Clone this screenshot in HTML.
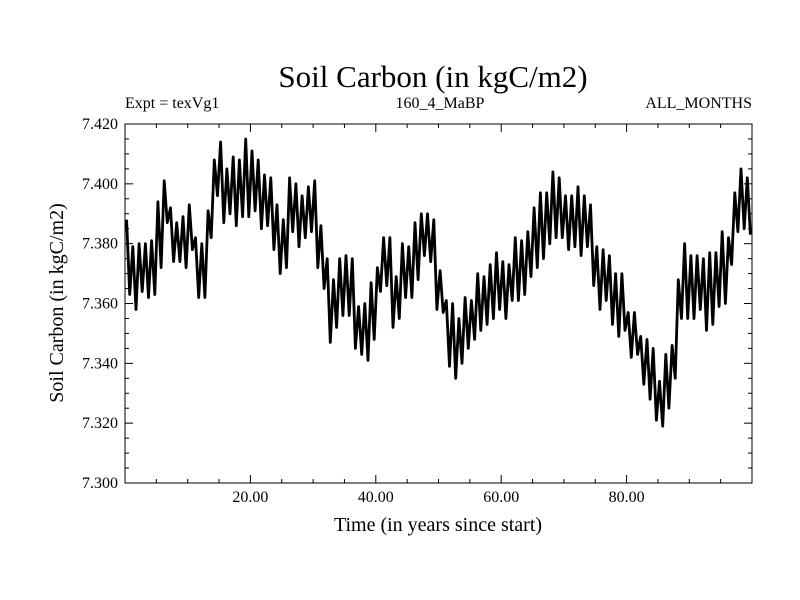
<!DOCTYPE html>
<html><head><meta charset="utf-8"><style>
body{margin:0;background:#fff}
svg{display:block}
text{font-family:"Liberation Serif",serif;fill:#000}
</style></head><body>
<svg id="chart" width="800" height="600">
<text x="433" y="87" font-size="31" text-anchor="middle">Soil Carbon (in kgC/m2)</text>
<text x="125" y="108" font-size="16">Expt = texVg1</text>
<text x="440" y="108" font-size="16" text-anchor="middle">160_4_MaBP</text>
<text x="752" y="108" font-size="16" text-anchor="end">ALL_MONTHS</text>
<text x="438" y="531" font-size="20" text-anchor="middle">Time (in years since start)</text>
<text transform="translate(63,303) rotate(-90)" font-size="20" text-anchor="middle">Soil Carbon (in kgC/m2)</text>
<g id="axes"></g>
<path id="series" fill="none" stroke="#000" stroke-width="2.8" stroke-linejoin="round"></path>
<rect x="125" y="124" width="627" height="359" fill="none" stroke="#000" stroke-width="1"></rect>
</svg>
<script>
const yearHighs=[7.388,7.379,7.380,7.380,7.381,7.394,7.401,7.392,7.387,7.389,7.393,7.382,7.380,7.391,7.408,7.414,7.405,7.409,7.408,7.415,7.411,7.408,7.403,7.402,7.393,7.388,7.402,7.400,7.396,7.399,7.401,7.386,7.375,7.368,7.375,7.376,7.375,7.359,7.360,7.367,7.372,7.382,7.382,7.369,7.380,7.379,7.387,7.390,7.390,7.388,7.371,7.361,7.360,7.355,7.362,7.361,7.370,7.369,7.373,7.377,7.374,7.373,7.382,7.381,7.384,7.392,7.397,7.397,7.404,7.402,7.396,7.396,7.399,7.396,7.393,7.379,7.378,7.376,7.370,7.370,7.357,7.357,7.349,7.348,7.345,7.334,7.343,7.346,7.368,7.380,7.376,7.376,7.375,7.377,7.377,7.384,7.382,7.397,7.405,7.402];
const yearLows=[7.363,7.358,7.364,7.362,7.363,7.372,7.387,7.374,7.374,7.372,7.378,7.362,7.362,7.382,7.396,7.387,7.390,7.386,7.389,7.389,7.391,7.385,7.386,7.378,7.370,7.372,7.384,7.379,7.382,7.384,7.372,7.365,7.347,7.352,7.356,7.356,7.345,7.343,7.341,7.348,7.364,7.366,7.352,7.355,7.362,7.362,7.368,7.376,7.374,7.358,7.357,7.339,7.335,7.340,7.345,7.348,7.351,7.353,7.355,7.358,7.355,7.361,7.361,7.363,7.369,7.372,7.375,7.380,7.382,7.382,7.378,7.379,7.376,7.379,7.366,7.358,7.361,7.353,7.349,7.351,7.342,7.343,7.333,7.328,7.321,7.319,7.325,7.335,7.355,7.355,7.355,7.358,7.351,7.353,7.359,7.360,7.373,7.384,7.385,7.383];
const xTickLabels=["20.00","40.00","60.00","80.00"];
const xTickValues=[20,40,60,80];
const yTickLabels=["7.300","7.320","7.340","7.360","7.380","7.400","7.420"];
const yTickValues=[7.30,7.32,7.34,7.36,7.38,7.40,7.42];

const X0=125,X1=752,Y0=483,Y1=124;
const xMin=0,xMax=100,yMin=7.30,yMax=7.42;
function xs(v){return X0+(v-xMin)/(xMax-xMin)*(X1-X0);}
function ys(v){return Y0-(v-yMin)/(yMax-yMin)*(Y0-Y1);}
const NS="http://www.w3.org/2000/svg";
const axes=document.getElementById('axes');
function line(x1,y1,x2,y2,name){
  const l=document.createElementNS(NS,'line');
  l.setAttribute('x1',x1);l.setAttribute('y1',y1);l.setAttribute('x2',x2);l.setAttribute('y2',y2);
  l.setAttribute('stroke','#000');l.setAttribute('stroke-width','1');
  
  
  axes.appendChild(l);
}
for(let v=5;v<xMax;v+=5){
  const major=v%20===0, len=major?8:4, x=xs(v);
  line(x,Y0,x,Y0-len,'x-tick');
  line(x,Y1,x,Y1+len,'x-tick-top');
}
for(let i=1;i<24;i++){
  const v=yMin+i*0.005, major=i%4===0, len=major?8:4, y=ys(v);
  line(X0,y,X0+len,y,'y-tick');
  line(X1,y,X1-len,y,'y-tick-right');
}
xTickValues.forEach((v,i)=>{
  const t=document.createElementNS(NS,'text');
  t.setAttribute('x',xs(v));t.setAttribute('y',Y0+19);
  t.setAttribute('font-size','16');t.setAttribute('text-anchor','middle');
  t.textContent=xTickLabels[i];
  
  
  axes.appendChild(t);
});
yTickValues.forEach((v,i)=>{
  const t=document.createElementNS(NS,'text');
  t.setAttribute('x',X0-7);t.setAttribute('y',ys(v)+5);
  t.setAttribute('font-size','16');t.setAttribute('text-anchor','end');
  t.textContent=yTickLabels[i];
  
  
  axes.appendChild(t);
});
let d='';
for(let i=0;i<yearHighs.length;i++){
  const hx=xs(i+0.25), lx=xs(i+0.75);
  d+=(i===0?'M':'L')+hx.toFixed(1)+','+ys(yearHighs[i]).toFixed(1)+'L'+lx.toFixed(1)+','+ys(yearLows[i]).toFixed(1);
}
document.getElementById('series').setAttribute('d',d);
</script>
</body></html>
